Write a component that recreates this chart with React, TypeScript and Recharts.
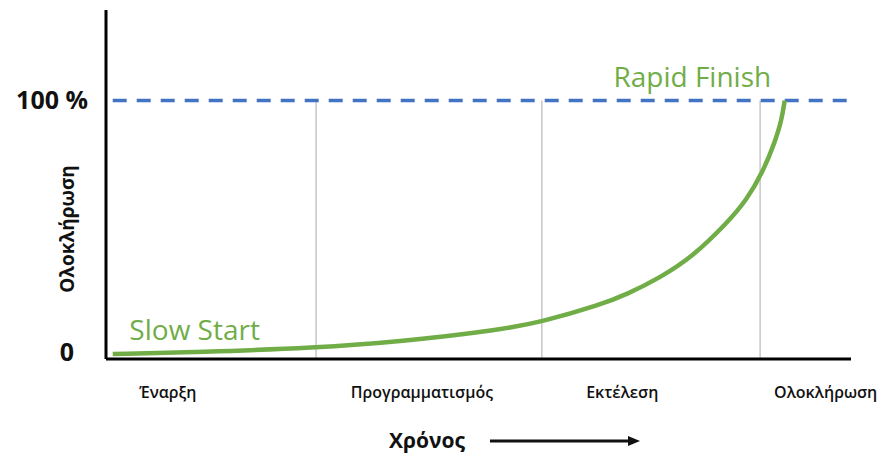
import { LineChart, Line, XAxis, YAxis, ReferenceLine, ReferenceDot, Label } from 'recharts';

// progress curve: time (0-100) vs completion (%)
const timeValues = [0.9, 12.6, 28.2, 39.5, 52.9, 58.7, 66.3, 69.9, 74.4, 78.8, 83.4, 86.0, 88.2, 89.8, 90.7, 91.1];
const completion = [1.9, 2.7, 4.3, 6.7, 11.2, 14.5, 20.9, 25.0, 31.5, 39.7, 52.7, 61.5, 72.5, 84.0, 92.5, 100];

// phase boundaries and labels on the time axis
const phaseBounds = [28.2, 58.5, 87.8];
const phaseTicks = [8.3, 42.4, 69.3, 96.6];
const phaseLabels = ['Έναρξη', 'Προγραμματισμός', 'Εκτέλεση', 'Ολοκλήρωση'];

const yTicks = [0, 100];

const data = timeValues.map((t, i) => ({ t, value: completion[i] }));

const FONT = '"Open Sans", sans-serif';
const GREEN = '#70AD47';

const PhaseTick = (props: any) => {
  const { x, y, index } = props;
  return (
    <text x={x} y={y + 31} textAnchor="middle" fontFamily={FONT} fontSize={16} fontWeight={600} fill="#111">
      {phaseLabels[index]}
    </text>
  );
};

const PercentTick = (props: any) => {
  const { x, y, payload } = props;
  const isZero = payload.value === 0;
  return (
    <text
      x={isZero ? x - 24 : x - 10}
      y={isZero ? y - 7 : y}
      dy={9}
      textAnchor="end"
      fontFamily={FONT}
      fontSize={25}
      fontWeight={700}
      fill="#111"
    >
      {isZero ? '0' : '100 %'}
    </text>
  );
};

const TimeLabel = (props: any) => {
  const { viewBox } = props;
  const y = viewBox.y + 82;
  const cx = viewBox.x + 321;
  return (
    <g>
      <text x={cx} y={y + 7} textAnchor="middle" fontFamily={FONT} fontSize={21} fontWeight={700} fill="#111">
        Χρόνος
      </text>
      <line x1={cx + 63} y1={y} x2={cx + 203} y2={y} stroke="#111" strokeWidth={3} />
      <polygon points={`${cx + 201},${y - 5} ${cx + 213},${y} ${cx + 201},${y + 5}`} fill="#111" />
    </g>
  );
};

const CompletionLabel = () => {
  const x = 67;
  const y = 229;
  return (
    <text
      x={x}
      y={y}
      transform={`rotate(-90 ${x} ${y})`}
      textAnchor="middle"
      dominantBaseline="central"
      fontFamily={FONT}
      fontSize={19}
      fontWeight={700}
      fill="#111"
    >
      Ολοκλήρωση
    </text>
  );
};

export default function App() {
  return (
    <div style={{ position: 'absolute', left: 0, top: 0, background: '#fff' }}>
      <LineChart width={880} height={454} data={data} margin={{ top: 10, right: 29, bottom: 0, left: 0 }}>
        <XAxis
          type="number"
          dataKey="t"
          domain={[0, 100]}
          ticks={phaseTicks}
          tick={<PhaseTick />}
          tickLine={false}
          interval={0}
          axisLine={{ stroke: '#000', strokeWidth: 3 }}
          height={95}
        >
          <Label content={<TimeLabel />} />
        </XAxis>
        <YAxis
          type="number"
          domain={[0, 135]}
          ticks={yTicks}
          tick={<PercentTick />}
          tickLine={false}
          width={106}
          axisLine={{ stroke: '#000', strokeWidth: 3 }}
        >
          <Label content={<CompletionLabel />} />
        </YAxis>
        {phaseBounds.map((b) => (
          <ReferenceLine
            key={b}
            segment={[{ x: b, y: 0 }, { x: b, y: 100 }]}
            stroke="#c6c6c6"
            strokeWidth={1.5}
          />
        ))}
        <ReferenceLine
          segment={[{ x: 0.9, y: 100 }, { x: 99.7, y: 100 }]}
          stroke="#4472C4"
          strokeWidth={3.5}
          strokeDasharray="14 10"
        />
        <Line
          type="basis"
          dataKey="value"
          stroke={GREEN}
          strokeWidth={4.5}
          dot={false}
          isAnimationActive={false}
        />
        <ReferenceDot x={11.9} y={11.2} r={0} stroke="none" fill="none">
          <Label value="Slow Start" position="center" fill={GREEN} fontFamily={FONT} fontSize={28} />
        </ReferenceDot>
        <ReferenceDot x={78.7} y={109} r={0} stroke="none" fill="none">
          <Label value="Rapid Finish" position="center" fill={GREEN} fontFamily={FONT} fontSize={28} />
        </ReferenceDot>
      </LineChart>
    </div>
  );
}
